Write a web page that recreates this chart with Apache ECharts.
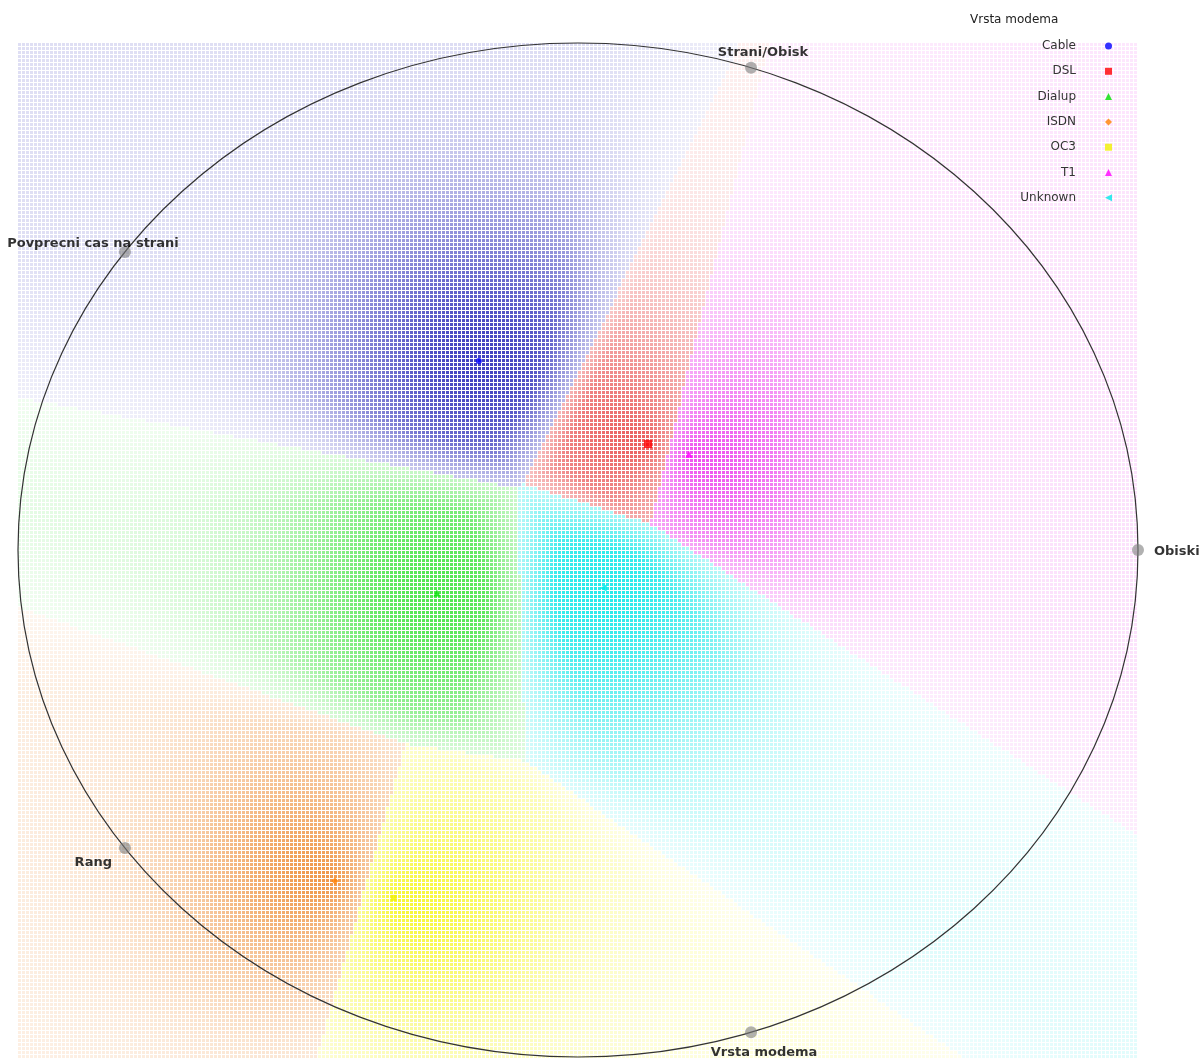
<!DOCTYPE html>
<html><head><meta charset="utf-8">
<script src="https://cdn.jsdelivr.net/npm/echarts@6/dist/echarts.min.js"></script>
<style>html,body{margin:0;padding:0;background:#fff}#c{width:1200px;height:1059px}</style>
</head><body><div id="c"></div>
<script>
// ---- data ----
const categories = ['Cable', 'DSL', 'Dialup', 'ISDN', 'OC3', 'T1', 'Unknown'];
const pointX = [-0.177, 0.125, -0.252, -0.434, -0.329, 0.198, 0.045];
const pointY = [0.373, 0.209, -0.085, -0.653, -0.686, 0.189, -0.075];
const anchorNames = ['Obiski', 'Strani/Obisk', 'Povprecni cas na strani', 'Rang', 'Vrsta modema'];
const anchorX = [1, 0.309, -0.809, -0.809, 0.309];
const anchorY = [0, 0.951, 0.588, -0.588, -0.951];
const legendTitle = 'Vrsta modema';

// ---- styles ----
const markerColors = ['#0000ff', '#ff0000', '#00e000', '#ff8000', '#f0f000', '#ff00ff', '#00e8e8'];
const shadeColors = [[30, 30, 180], [225, 20, 20], [50, 225, 50], [235, 125, 25], [245, 245, 0], [230, 0, 230], [0, 230, 230]];
const markerSymbols = ['circle', 'rect', 'triangle', 'diamond', 'rect', 'triangle', 'path://M0,5L10,0L10,10Z'];
const markerSizes = [6, 8, 7, 7, 6, 7, 7];

const chart = echarts.init(document.getElementById('c'), null, {renderer: 'canvas'});

function densityItem(params, api) {
  const pts = pointX.map((x, i) => api.coord([x, pointY[i]]));
  const tl = api.coord([-1, 1]);
  const br = api.coord([1, -1]);
  const children = [];
  const step = 4;
  for (let py = tl[1]; py < br[1] - 1; py += step) {
    for (let px = tl[0]; px < br[0] - 1; px += step) {
      const cx = px + 1.5, cy = py + 1.5;
      let d1 = 1e9, d2 = 1e9, k = 0;
      for (let i = 0; i < pts.length; i++) {
        const dx = cx - pts[i][0], dy = cy - pts[i][1];
        const d = Math.sqrt(dx * dx + dy * dy);
        if (d < d1) { d2 = d1; d1 = d; k = i; } else if (d < d2) { d2 = d; }
      }
      const edge = 0.5 + 0.5 * Math.min(1, (d2 - d1) / 70);
      const a = (0.14 + 0.7 * Math.exp(-(d1 / 155) * (d1 / 155))) * edge;
      const c = shadeColors[k];
      const r = Math.round(255 + (c[0] - 255) * a);
      const g = Math.round(255 + (c[1] - 255) * a);
      const b = Math.round(255 + (c[2] - 255) * a);
      children.push({type: 'rect', shape: {x: px, y: py, width: 3, height: 3}, style: {fill: 'rgb(' + r + ',' + g + ',' + b + ')'}});
    }
  }
  return {type: 'group', children: children};
}

function circleItem(params, api) {
  const c = api.coord([0, 0]);
  const s = api.size([1, 1]);
  return {type: 'ellipse', shape: {cx: c[0], cy: c[1], rx: s[0], ry: s[1]}, style: {fill: null, stroke: '#333', lineWidth: 1.2}};
}

const labelCfg = [
  {position: 'right', distance: 10, offset: [0, 2]},
  {position: 'top', distance: 3, offset: [12, 0]},
  {position: 'top', distance: 0, offset: [-32, 4]},
  {position: 'left', distance: 7, offset: [0, 15]},
  {position: 'bottom', distance: 8, offset: [13, 0]}
];

const series = [
  {type: 'custom', renderItem: densityItem, data: [0], silent: true, z: 0, clip: false},
  {type: 'custom', renderItem: circleItem, data: [0], silent: true, z: 1, clip: false},
  {
    type: 'scatter', z: 2, silent: true, symbol: 'circle', symbolSize: 12,
    itemStyle: {color: 'rgba(125,125,125,0.75)'},
    data: anchorNames.map((n, i) => ({
      value: [anchorX[i], anchorY[i]], name: n,
      label: {show: true, formatter: n, position: labelCfg[i].position, distance: labelCfg[i].distance, offset: labelCfg[i].offset,
        fontFamily: 'DejaVu Sans', fontWeight: 'bold', fontSize: 13, color: '#000'}
    }))
  }
];
categories.forEach((cat, i) => {
  series.push({
    type: 'scatter', name: cat, z: 3, symbol: markerSymbols[i], symbolSize: markerSizes[i],
    itemStyle: {color: markerColors[i]},
    data: [[pointX[i], pointY[i]]]
  });
});

chart.setOption({
  animation: false,
  backgroundColor: '#fff',
  title: {text: legendTitle, left: 970, top: 14, padding: 0, textStyle: {fontFamily: 'DejaVu Sans', fontWeight: 'normal', fontSize: 12, color: '#222'}},
  legend: {
    orient: 'vertical', right: 83, top: 34, align: 'right',
    itemWidth: 7, itemHeight: 7, itemGap: 11.3,
    data: categories.map((c, i) => ({name: c, icon: markerSymbols[i]})),
    textStyle: {fontFamily: 'DejaVu Sans', fontSize: 12, color: '#333', lineHeight: 14, padding: [0, 24, 0, 0]}
  },
  grid: {left: 18, top: 43, width: 1120, height: 1014},
  xAxis: {type: 'value', min: -1, max: 1, show: false},
  yAxis: {type: 'value', min: -1, max: 1, show: false},
  series: series
});
</script>
</body></html>
